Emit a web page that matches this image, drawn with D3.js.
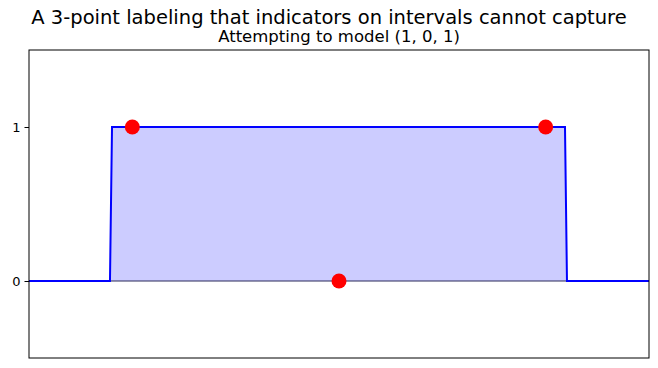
<!DOCTYPE html>
<html>
<head>
<meta charset="utf-8">
<script src="https://cdn.jsdelivr.net/npm/d3@7"></script>
<style>
  body { margin: 0; background: #fff; }
  text { font-family: "DejaVu Sans", sans-serif; }
</style>
</head>
<body>
<div id="main"></div>
<script>
/* chart data */
const stepX = [0, 0.1306, 0.1339, 0.8645, 0.8677, 1];
const stepY = [0, 0, 1, 1, 0, 0];
const pointX = [1 / 6, 1 / 2, 5 / 6];
const pointY = [1, 0, 1];
const yTicks = [0, 1];
const titleText = 'A 3-point labeling that indicators on intervals cannot capture';
const subtitleText = 'Attempting to model (1, 0, 1)';

const svgWidth = 658;
const svgHeight = 368;
const margin = { t: 50, r: 9, b: 10, l: 29 };
const w = svgWidth - margin.l - margin.r;
const h = svgHeight - margin.t - margin.b;

const svg = d3.select('#main').append('svg')
  .attr('width', svgWidth)
  .attr('height', svgHeight);

svg.append('text')
  .attr('x', svgWidth / 2)
  .attr('y', 24)
  .attr('text-anchor', 'middle')
  .style('font-size', '19.5px')
  .text(titleText);

svg.append('text')
  .attr('x', margin.l + w / 2)
  .attr('y', 42)
  .attr('text-anchor', 'middle')
  .style('font-size', '16.5px')
  .text(subtitleText);

const plot = svg.append('g')
  .attr('transform', `translate(${margin.l},${margin.t})`);

const x = d3.scaleLinear().domain([0, 1]).range([0, w]);
const y = d3.scaleLinear().domain([-0.5, 1.5]).range([h, 0]);

const steps = stepX.map((d, i) => ({ x: d, y: stepY[i] }));

// filled region under the indicator
const area = d3.area()
  .x(d => x(d.x))
  .y0(y(0))
  .y1(d => y(d.y));

plot.append('path')
  .datum(steps.slice(1, 5))
  .attr('d', area)
  .attr('fill', '#ccccff');

plot.append('line')
  .attr('x1', x(stepX[1]))
  .attr('x2', x(stepX[4]))
  .attr('y1', y(0))
  .attr('y2', y(0))
  .attr('stroke', '#2a2a5a')
  .attr('stroke-width', 1.2);

const line = d3.line()
  .x(d => x(d.x))
  .y(d => y(d.y));

plot.append('path')
  .datum(steps)
  .attr('d', line)
  .attr('fill', 'none')
  .attr('stroke', '#0000ff')
  .attr('stroke-width', 2);

plot.selectAll('.pt')
  .data(pointX.map((d, i) => ({ x: d, y: pointY[i] })))
  .enter()
  .append('circle')
  .attr('class', 'pt')
  .attr('cx', d => x(d.x))
  .attr('cy', d => y(d.y))
  .attr('r', 7.5)
  .attr('fill', '#ff0000');

// axes
const yAxis = d3.axisLeft(y)
  .tickValues(yTicks)
  .tickFormat(d3.format('d'))
  .tickSize(4.5)
  .tickPadding(4);

const ya = plot.append('g').call(yAxis);
ya.select('.domain').remove();
ya.selectAll('text').style('font-size', '13px').attr('fill', '#000');

plot.append('rect')
  .attr('x', 0)
  .attr('y', 0)
  .attr('width', w)
  .attr('height', h)
  .attr('fill', 'none')
  .attr('stroke', '#000')
  .attr('stroke-width', 1);
</script>
</body>
</html>
